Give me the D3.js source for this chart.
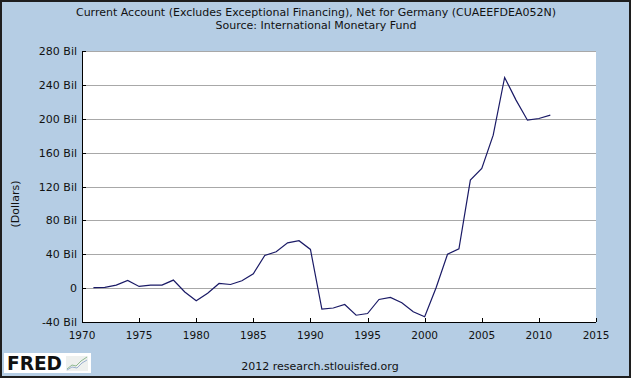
<!DOCTYPE html>
<html>
<head>
  <title>Current Account, Net for Germany</title>
  <script src="https://d3js.org/d3.v7.min.js"></script>
  <style>
    body { margin: 0; font-family: "DejaVu Sans", Verdana, sans-serif; }
    .grid line { stroke: #a8a8a8; shape-rendering: crispEdges; }
    .axis path, .axis line { fill: none; stroke: #000; shape-rendering: crispEdges; }
    .axis text { font-size: 11px; fill: #111; }
    .title { font-size: 11px; fill: #111; text-anchor: middle; }
  </style>
</head>
<body>
  <div id="chart"></div>
  <script>
    // Current account, billions of US dollars, 1971-2011
    const years = [1971, 1972, 1973, 1974, 1975, 1976, 1977, 1978, 1979, 1980,
                   1981, 1982, 1983, 1984, 1985, 1986, 1987, 1988, 1989, 1990,
                   1991, 1992, 1993, 1994, 1995, 1996, 1997, 1998, 1999, 2000,
                   2001, 2002, 2003, 2004, 2005, 2006, 2007, 2008, 2009, 2010, 2011];
    const values = [0.5, 1, 3.5, 9, 2, 3.5, 3.5, 9.5, -4.5, -15,
                    -6, 5.5, 4.3, 8.7, 17, 38.6, 43, 53.5, 56, 45.7,
                    -24.8, -23.5, -19.3, -32, -30, -13.4, -11, -17.3, -28, -33.8,
                    0.4, 40, 46.4, 127.5, 141.3, 180.6, 248.7, 222, 198.3, 200.3, 204.2];
    const yTicks = [-40, 0, 40, 80, 120, 160, 200, 240, 280];
    const xTicks = [1970, 1975, 1980, 1985, 1990, 1995, 2000, 2005, 2010, 2015];

    const W = 631, H = 378;
    const plot = {left: 82, right: 596, top: 51, bottom: 322};

    const svg = d3.select("#chart").append("svg")
      .attr("width", W).attr("height", H);

    // background + frame
    svg.append("rect").attr("x", 0).attr("y", 0).attr("width", W).attr("height", H)
      .attr("fill", "#b5cde4");
    svg.append("rect").attr("x", 1).attr("y", 1).attr("width", W - 2).attr("height", H - 2)
      .attr("fill", "none").attr("stroke", "#1e1e1e").attr("stroke-width", 2);

    // titles
    svg.append("text").attr("class", "title").attr("x", 316).attr("y", 16)
      .text("Current Account (Excludes Exceptional Financing), Net for Germany (CUAEEFDEA052N)");
    svg.append("text").attr("class", "title").attr("x", 316).attr("y", 29)
      .text("Source: International Monetary Fund");

    const x = d3.scaleLinear().domain([1970, 2015]).range([plot.left, plot.right]);
    const y = d3.scaleLinear().domain([-40, 280]).range([plot.bottom, plot.top]);

    svg.append("rect")
      .attr("x", plot.left).attr("y", plot.top)
      .attr("width", plot.right - plot.left).attr("height", plot.bottom - plot.top)
      .attr("fill", "#fff");

    // gridlines
    svg.append("g").attr("class", "grid")
      .selectAll("line")
      .data(yTicks.filter(d => d > -40))
      .join("line")
        .attr("x1", plot.left).attr("x2", plot.right)
        .attr("y1", d => Math.round(y(d)) + 0.5).attr("y2", d => Math.round(y(d)) + 0.5);

    // axes
    const fmt = d => d === 0 ? "0" : d + " Bil";
    svg.append("g").attr("class", "axis")
      .attr("transform", `translate(${plot.left},0)`)
      .call(d3.axisRight(y).tickValues(yTicks).tickSize(4).tickSizeOuter(0).tickFormat(""))
      .call(g => g.select(".domain").remove());
    svg.append("line")
      .attr("x1", plot.left + 0.5).attr("x2", plot.left + 0.5)
      .attr("y1", plot.top).attr("y2", plot.bottom + 1)
      .attr("stroke", "#000").attr("shape-rendering", "crispEdges");

    svg.append("g").attr("class", "axis")
      .selectAll("text")
      .data(yTicks)
      .join("text")
        .attr("x", plot.left - 5)
        .attr("y", d => y(d) + 4)
        .attr("text-anchor", "end")
        .text(fmt);

    svg.append("g").attr("class", "axis")
      .attr("transform", `translate(0,${plot.bottom})`)
      .call(d3.axisTop(x).tickValues(xTicks).tickSize(4).tickSizeOuter(0).tickFormat(""))
      .call(g => g.select(".domain").remove());
    svg.append("line")
      .attr("x1", plot.left).attr("x2", plot.right)
      .attr("y1", plot.bottom + 0.5).attr("y2", plot.bottom + 0.5)
      .attr("stroke", "#000").attr("shape-rendering", "crispEdges");

    svg.append("g").attr("class", "axis")
      .selectAll("text")
      .data(xTicks)
      .join("text")
        .attr("x", d => x(d))
        .attr("y", plot.bottom + 17)
        .attr("text-anchor", "middle")
        .style("font-size", "10.5px")
        .text(d => d);

    // y label
    svg.append("text")
      .attr("transform", "translate(19,204) rotate(-90)")
      .attr("text-anchor", "middle")
      .style("font-size", "11px").attr("fill", "#111")
      .text("(Dollars)");

    // series line
    const line = d3.line().x((d, i) => x(years[i])).y(d => y(d));
    svg.append("path")
      .datum(values)
      .attr("fill", "none")
      .attr("stroke", "#1a1a66")
      .attr("stroke-width", 1.2)
      .attr("d", line);

    // footer
    svg.append("text").attr("class", "title").attr("x", 320).attr("y", 370)
      .text("2012 research.stlouisfed.org");

    // FRED logo
    const logo = svg.append("g").attr("transform", "translate(4,353)");
    logo.append("rect").attr("width", 87).attr("height", 20).attr("fill", "#fff");
    logo.append("text").attr("x", 3).attr("y", 17)
      .attr("textLength", 55).attr("lengthAdjust", "spacingAndGlyphs")
      .style("font-size", "19px").style("font-weight", "bold")
      .style("font-family", "'DejaVu Sans', sans-serif")
      .attr("fill", "#111").text("FRED");
    logo.append("rect").attr("x", 62).attr("y", 3).attr("width", 22).attr("height", 15)
      .attr("fill", "#eef0ee");
    logo.append("path").attr("d", "M63,16 L68,12 L72,13 L77,8 L83,4")
      .attr("fill", "none").attr("stroke", "#8fb98f").attr("stroke-width", 1);
    logo.append("path").attr("d", "M63,17 L68,14 L73,15 L78,10 L83,7")
      .attr("fill", "none").attr("stroke", "#9ab0cf").attr("stroke-width", 1);
  </script>
</body>
</html>
